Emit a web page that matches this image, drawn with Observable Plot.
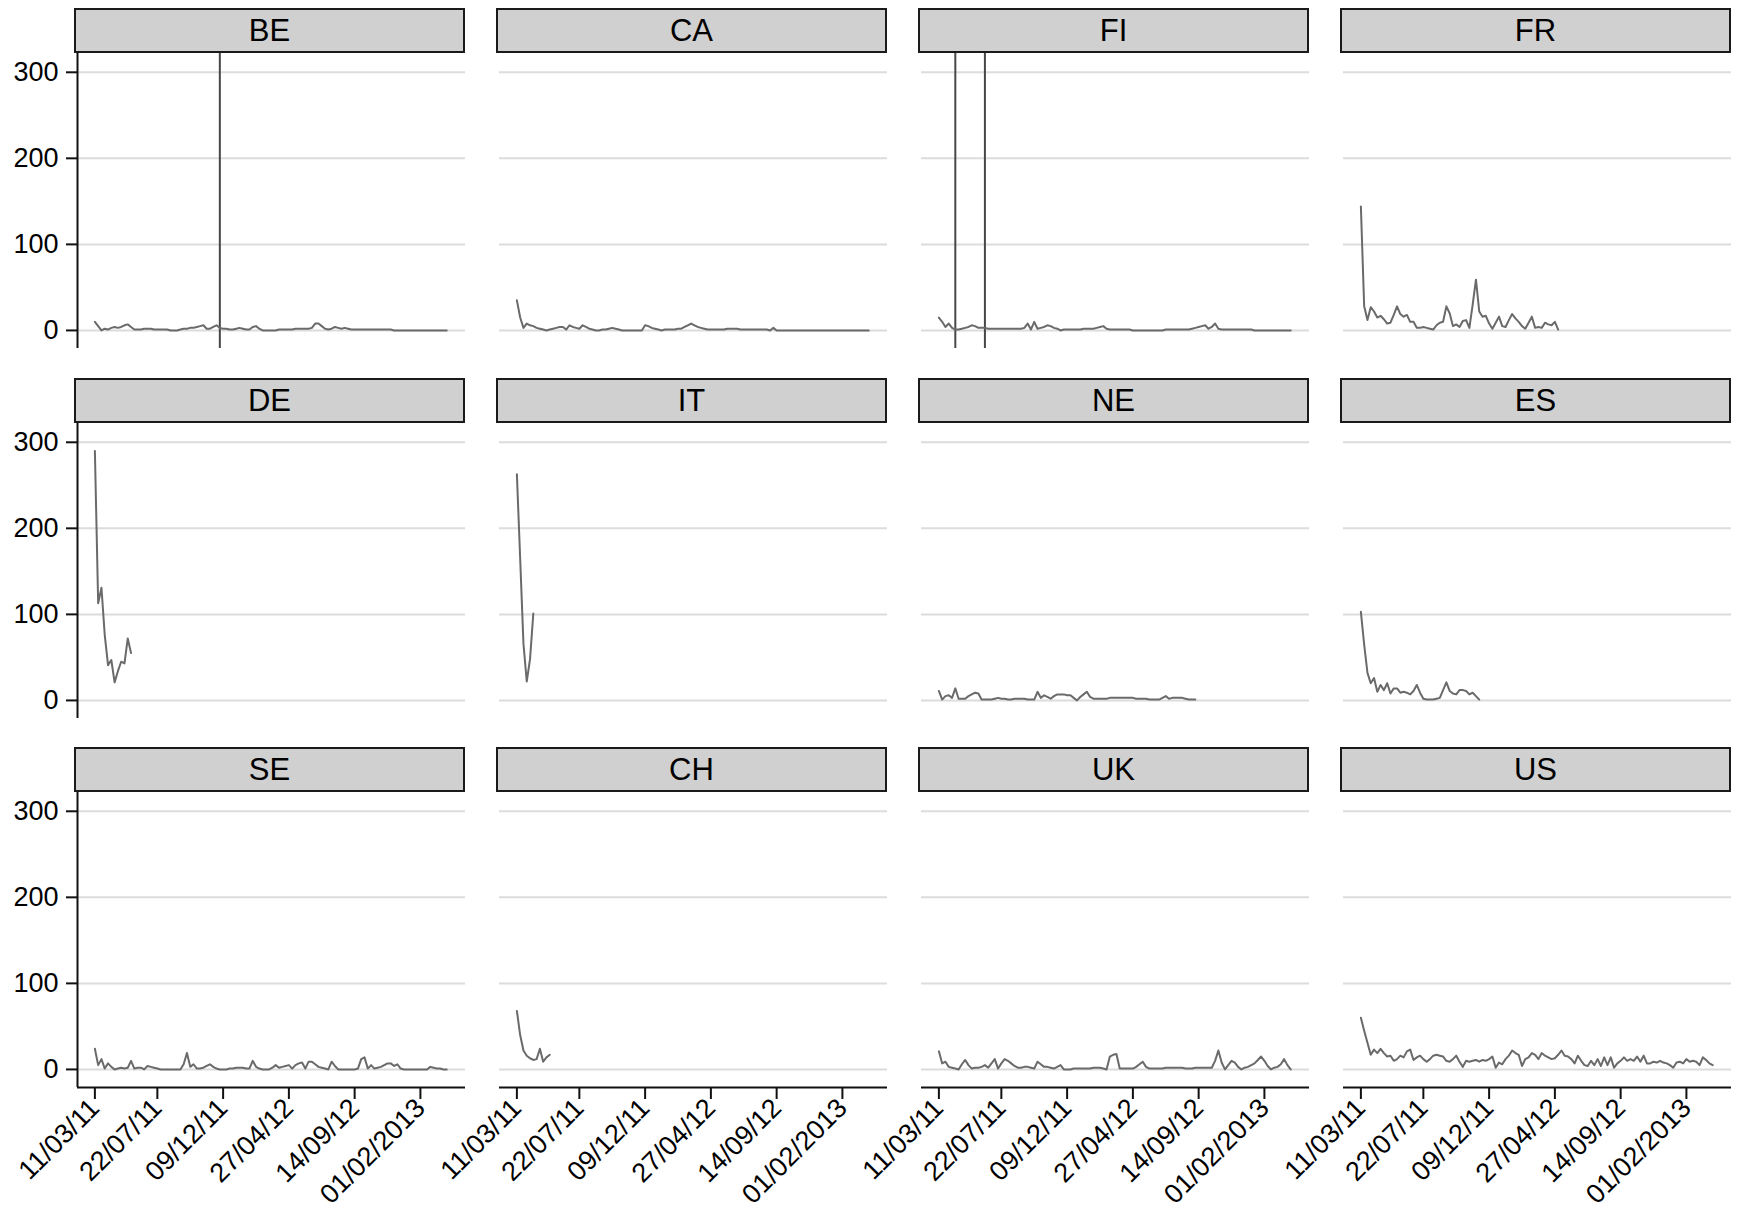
<!DOCTYPE html>
<html><head><meta charset="utf-8">
<script src="https://cdn.jsdelivr.net/npm/d3@7"></script>
<script src="https://cdn.jsdelivr.net/npm/@observablehq/plot@0.6"></script>
<style>
body{margin:0;background:#fff;}
#chart{position:relative;width:1739px;height:1213px;font-family:"Liberation Sans",Arial,Helvetica,sans-serif;overflow:hidden;}
.hdr{position:absolute;box-sizing:border-box;background:#d0d0d0;border:2px solid #1a1a1a;text-align:center;font-size:31px;color:#000;}
.pnl{position:absolute;}
.pnl svg{overflow:visible;}
</style></head><body><div id="chart"></div>
<script>
// ---- data ----
const countries = ["BE","CA","FI","FR","DE","IT","NE","ES","SE","CH","UK","US"];
const startDate = "2011-03-11"; // weekly observations from this date
const BE = [10,5,0,2,1,3,4,3,4,6, 7,4,1,1,1,2,2,2,1,1, 1,1,1,0,0,0,1,2,2,3, 3,4,5,6,2,2,4,6,3,2, 2,1,1,2,3,2,1,1,4,5, 2,0,0,0,0,0,1,1,1,1, 1,2,2,2,2,2,3,8,8,5, 2,1,2,4,3,2,3,2,1,1, 1,1,1,1,1,1,1,1,1,1, 1,0,0,0,0,0,0,0,0,0, 0,0,0,0,0,0,0,0];
const CA = [35,15,3,8,6,5,3,2,1,0, 1,2,3,4,4,1,6,4,3,2, 6,4,2,1,0,0,1,1,2,3, 2,1,0,0,0,0,0,0,0,6, 5,3,2,1,0,1,1,1,1,2, 2,4,6,8,6,4,3,2,1,1, 1,1,1,1,2,2,2,2,1,1, 1,1,1,1,1,1,1,0,3,0, 0,0,0,0,0,0,0,0,0,0, 0,0,0,0,0,0,0,0,0,0, 0,0,0,0,0,0,0,0];
const FI = [15,10,4,8,3,1,1,2,3,4, 6,5,3,3,3,2,2,2,2,2, 2,2,2,2,2,2,3,8,1,10, 2,3,4,6,5,3,2,0,1,1, 1,1,1,1,2,2,2,2,3,4, 5,2,1,1,1,1,1,1,1,0, 0,0,0,0,0,0,0,0,0,1, 1,1,1,1,1,1,1,2,3,4, 5,6,2,4,8,2,1,1,1,1, 1,1,1,1,1,1,0,0,0,0, 0,0,0,0,0,0,0,0];
const FR = [144,28,12,27,22,15,17,13,8,9, 18,28,19,16,18,10,10,3,3,4, 3,2,1,6,9,10,28,20,5,7, 4,11,12,3,30,59,22,16,17,8, 2,9,16,5,4,12,19,14,10,5, 2,9,16,3,4,3,9,7,6,10, 1];
const DE = [290,113,131,76,41,47,21,34,45,43,72,55];
const IT = [263,165,66,22,48,101];
const NE = [11,1,5,6,3,14,2,2,2,5, 7,9,8,1,1,1,1,2,3,2, 2,1,1,2,2,2,2,1,1,1, 10,3,6,4,2,5,7,7,7,6, 6,3,0,4,7,10,4,2,2,2, 2,2,3,3,3,3,3,3,3,3, 2,2,2,2,1,1,1,1,3,5, 2,3,3,3,3,2,1,1,1];
const ES = [103,65,32,20,26,10,18,12,20,8, 14,14,9,10,9,7,11,18,9,2, 1,1,1,2,3,12,21,11,8,7, 12,12,11,7,9,5,1];
const SE = [24,5,12,1,7,3,0,1,2,1, 2,10,1,2,2,0,4,3,2,1, 0,0,0,0,0,0,0,6,19,3, 6,1,1,2,4,6,3,1,0,0, 0,1,1,2,2,2,1,1,10,3, 1,0,0,0,2,5,2,3,4,5, 1,5,7,8,1,9,9,6,3,2, 1,0,9,4,0,0,0,0,0,0, 1,12,14,1,5,1,2,3,5,7, 7,4,6,1,0,0,0,0,0,0, 0,0,3,2,1,1,0,0];
const CH = [68,40,22,16,13,11,12,24,9,14,17];
const UK = [21,7,9,3,2,1,0,6,11,5, 1,2,2,3,5,2,7,12,1,7, 12,10,7,4,2,2,3,3,2,1, 9,6,3,3,2,1,3,5,0,0, 0,1,1,1,1,1,1,2,2,2, 1,0,15,17,18,1,1,1,1,1, 3,6,9,3,1,1,1,1,1,2, 2,2,2,2,2,1,1,1,2,2, 2,2,2,2,10,22,8,0,5,10, 8,3,0,2,3,5,7,11,15,10, 4,0,2,3,6,12,5,0];
const US = [60,45,31,17,23,19,24,19,15,16, 10,12,16,14,21,23,11,14,16,12, 9,12,16,17,16,15,10,9,12,16, 9,3,10,9,10,11,9,11,10,12, 15,2,8,6,12,16,22,19,17,4, 12,14,19,17,12,19,16,14,12,13, 17,22,16,15,12,7,16,10,5,4, 10,5,12,4,14,5,14,2,7,10, 14,10,12,10,15,9,16,7,7,9, 8,10,8,7,5,2,8,9,7,12, 9,10,9,5,14,11,7,5];
// off-scale spikes (drawn across the whole panel)
const spikesBE = ["2011-12-02"];
const spikesFI = ["2011-04-15","2011-06-17"];
const tickDates = ["2011-03-11","2011-07-22","2011-12-09","2012-04-27","2012-09-14","2013-02-01"];
const tickLabels = ["11/03/11","22/07/11","09/12/11","27/04/12","14/09/12","01/02/2013"];
const yTicks = [0,100,200,300];
const xDomainStr = ["2011-02-02","2013-05-08"];
const yDomain = [-21, 323];

// ---- build ----
const parse = d3.utcParse("%Y-%m-%d");
const seriesMap = {BE,CA,FI,FR,DE,IT,NE,ES,SE,CH,UK,US};
const spikeMap = {BE: spikesBE, FI: spikesFI};
const t0 = parse(startDate);
const xDomain = xDomainStr.map(parse);
const tickD = tickDates.map(parse);
const labelMap = new Map(tickD.map((d,i)=>[+d, tickLabels[i]]));
const weekly = vals => vals.map((v,i)=>({date: d3.utcDay.offset(t0, 7*i), value: v}));

const colLeft = [77, 499, 921, 1343];
const rowTop = [52, 422, 791];
const plotW = 388, plotH = 296, hdrH = 44;
const FONT = '"Liberation Sans", Arial, Helvetica, sans-serif';
const chart = document.getElementById("chart");

countries.forEach((cty, i) => {
  const r = Math.floor(i/4), c = i % 4;
  const L = colLeft[c], T = rowTop[r];
  const hdr = document.createElement("div");
  hdr.className = "hdr";
  hdr.style.left = (L - 3) + "px";
  hdr.style.top = (T - hdrH) + "px";
  hdr.style.width = (plotW + 3) + "px";
  hdr.style.height = (hdrH + 1) + "px";
  hdr.style.lineHeight = (hdrH - 3) + "px";
  hdr.textContent = cty;
  const ml = c === 0 ? L : 0;
  const mb = r === 2 ? 135 : 0;
  const marks = [
    Plot.gridY(yTicks, {stroke: "#dcdcdc", strokeOpacity: 1, strokeWidth: 2})
  ];
  if (spikeMap[cty]) marks.push(Plot.ruleX(spikeMap[cty].map(parse), {stroke: "#474747", strokeWidth: 2}));
  marks.push(Plot.lineY(weekly(seriesMap[cty]), {x: "date", y: "value", stroke: "#6a6a6a", strokeWidth: 2}));
  if (c === 0) {
    marks.push(Plot.ruleX([xDomain[0]], {stroke: "#111", strokeWidth: 2}));
    marks.push(Plot.axisY(yTicks, {label: null, tickSize: 11, tickPadding: 8, strokeWidth: 2, fontSize: 27, fill: "#000", stroke: "#111"}));
  }
  if (r === 2) {
    marks.push(Plot.ruleY([yDomain[0]], {stroke: "#111", strokeWidth: 2}));
    marks.push(Plot.axisX(tickD, {label: null, tickFormat: d => labelMap.get(+d), tickRotate: -45, tickSize: 12, tickPadding: 4, strokeWidth: 2, fontSize: 27, fill: "#000", stroke: "#111"}));
  }
  const svg = Plot.plot({
    width: ml + plotW + 1,
    height: plotH + mb,
    marginLeft: ml, marginRight: 1, marginTop: 0, marginBottom: mb,
    style: {background: "transparent", fontFamily: FONT, fontSize: "27px", overflow: "visible"},
    x: {type: "utc", domain: xDomain, axis: null, label: null},
    y: {domain: yDomain, axis: null, label: null},
    marks
  });
  const wrap = document.createElement("div");
  wrap.className = "pnl";
  wrap.style.left = (c === 0 ? 0 : L) + "px";
  wrap.style.top = T + "px";
  wrap.appendChild(svg);
  chart.appendChild(wrap);
  chart.appendChild(hdr);
});
</script></body></html>
